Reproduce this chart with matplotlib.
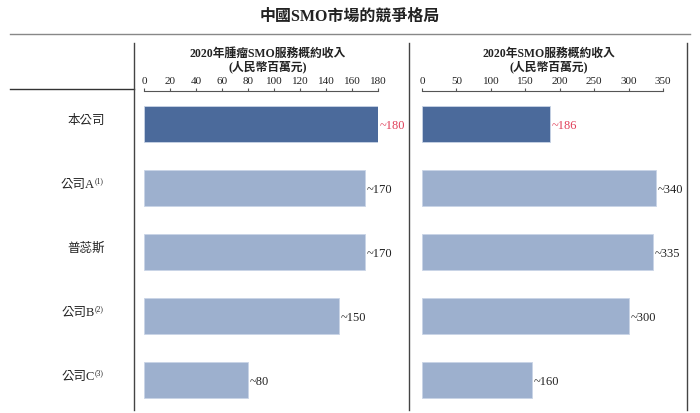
import matplotlib
matplotlib.use("Agg")
import matplotlib.pyplot as plt
from matplotlib.lines import Line2D

plt.rcParams['font.family'] = ['Liberation Serif', 'Noto Sans CJK TC', 'DejaVu Sans']

title = "中國SMO市場的競爭格局"
categories = ["本公司", "公司A", "普蕊斯", "公司B", "公司C"]
footnotes = ["", "(1)", "", "(2)", "(3)"]
left_title = ["2020年腫瘤SMO服務概約收入", "(人民幣百萬元)"]
right_title = ["2020年SMO服務概約收入", "(人民幣百萬元)"]
left_values = [180, 170, 170, 150, 80]
right_values = [186, 340, 335, 300, 160]
left_ticks = [0, 20, 40, 60, 80, 100, 120, 140, 160, 180]
right_ticks = [0, 50, 100, 150, 200, 250, 300, 350]

W, H = 700, 413
fig = plt.figure(figsize=(W / 100, H / 100), dpi=100)

def fx(px):
    return px / W

def fy(py):
    return 1 - py / H

dark = "#4B6A9B"
light = "#9DB0CE"
red = "#E0405A"
txt = "#222222"
gray = "#555555"

# frame lines
fig.add_artist(Line2D([fx(10), fx(690)], [fy(34), fy(34)], color="#888888", lw=1.0))
fig.add_artist(Line2D([fx(10), fx(134)], [fy(89), fy(89)], color="#333333", lw=1.0))
for xv in (134, 409, 687):
    fig.add_artist(Line2D([fx(xv), fx(xv)], [fy(43), fy(410)], color="#444444", lw=1.0))

fig.text(fx(350), fy(17), title, ha="center", va="center", fontsize=11.5, fontweight="bold", color=txt)

top_px, bot_px = 91, 410
row0, step = 124, 64.0
ylim = ((bot_px - row0) / step, -(row0 - top_px) / step)

def panel(x0, x1, vmax, values, ticks, sub, cx):
    ax = fig.add_axes([fx(x0), fy(bot_px), fx(x1) - fx(x0), (bot_px - top_px) / H])
    ax.set_xlim(0, vmax)
    ax.set_ylim(*ylim)
    ypos = list(range(len(values)))
    colors = [dark] + [light] * (len(values) - 1)
    ax.barh(ypos, values, height=0.56, color=colors, edgecolor="#C9D4E6", linewidth=0.6)
    for i, v in enumerate(values):
        ax.text(v + vmax * 0.008, i + 0.03, f"~{v}", ha="left", va="center", fontsize=9,
                color=red if i == 0 else txt)
    for s in ("left", "right", "bottom"):
        ax.spines[s].set_visible(False)
    ax.spines["top"].set_color(gray)
    ax.spines["top"].set_linewidth(0.8)
    ax.xaxis.tick_top()
    ax.set_xticks(ticks)
    ax.set_xticklabels([str(t) for t in ticks])
    ax.tick_params(axis="x", direction="out", length=2.2, width=0.8, color=gray,
                   labelsize=8, labelcolor=txt, pad=1.5)
    ax.set_yticks([])
    fig.text(fx(cx), fy(54), sub[0], ha="center", va="center", fontsize=8.5, fontweight="bold", color=txt)
    fig.text(fx(cx), fy(66.5), sub[1], ha="center", va="center", fontsize=8.5, fontweight="bold", color=txt)
    return ax

panel(144, 378, 180, left_values, left_ticks, left_title, 268)
panel(422, 663, 350, right_values, right_ticks, right_title, 549)

for i, (c, fn) in enumerate(zip(categories, footnotes)):
    yc = row0 + i * step - 3
    if fn:
        fig.text(fx(95), fy(yc), c, ha="right", va="center", fontsize=9, color=txt)
        fig.text(fx(94.5), fy(yc - 4), fn, ha="left", va="center", fontsize=5.5, color=txt)
    else:
        fig.text(fx(105), fy(yc), c, ha="right", va="center", fontsize=9, color=txt)

fig.savefig("out.png", dpi=100, facecolor="white")
